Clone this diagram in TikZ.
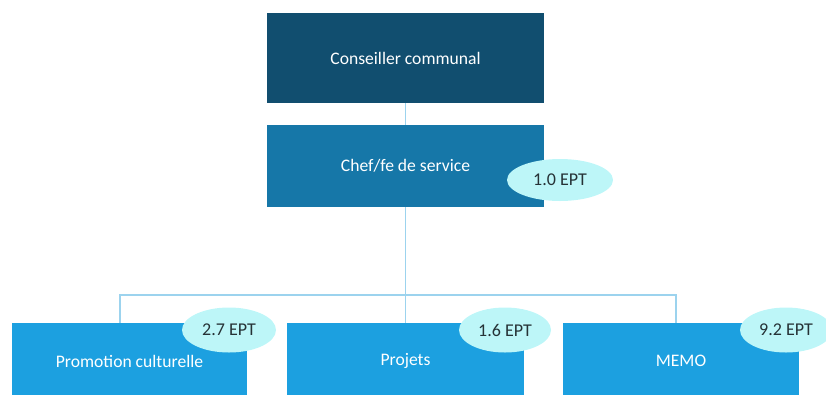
\documentclass[tikz,border=0pt]{standalone}
\usepackage{fontspec}
\setmainfont{Carlito}
\usetikzlibrary{shapes.geometric}
\definecolor{topc}{HTML}{114E6F}
\definecolor{midc}{HTML}{1677A8}
\definecolor{botc}{HTML}{1CA0E0}
\definecolor{ellc}{HTML}{BDF6F8}
\definecolor{linec}{HTML}{9CD3EE}
\definecolor{ellt}{HTML}{263236}
\tikzset{
  box/.style={rectangle, draw=none, text=white, font=\fontsize{17.6}{20}\selectfont, inner sep=0pt},
  ept/.style={ellipse, fill=ellc, draw=none, text=ellt, font=\fontsize{18}{20}\selectfont, inner sep=0pt},
  conn/.style={draw=linec, line width=1.4pt}
}
\begin{document}
\begin{tikzpicture}[x=1pt,y=-1pt]
\useasboundingbox (0,0) rectangle (826,394);
\clip (0,0) rectangle (826,394);
\node[box, fill=topc, minimum width=277pt, minimum height=90pt] (cons) at (405.5,58) {Conseiller communal};
\node[box, fill=midc, minimum width=277pt, minimum height=82pt] (chef) at (405.5,166) {Chef/fe de service};
\node[box, fill=botc, minimum width=235pt, minimum height=76pt] (promo) at (129.5,361) {Promotion culturelle};
\node[box, fill=botc, minimum width=237pt, minimum height=76pt] (proj) at (405.5,361) {Projets};
\node[box, fill=botc, minimum width=236pt, minimum height=76pt] (memo) at (681,361) {MEMO};
\coordinate (hub) at (405.5,295);
\draw[conn] (cons.south) -- (chef.north);
\draw[conn] (chef.south) -- (hub);
\draw[conn] (hub) -| (promo.north -| 120,0);
\draw[conn] (hub) -- (proj.north);
\draw[conn] (hub) -| (memo.north -| 676,0);
\node[ept, minimum width=106pt, minimum height=42pt] (e1) at (560,180) {1.0 EPT};
\node[ept, minimum width=94pt, minimum height=45pt] (e2) at (229,330) {2.7 EPT};
\node[ept, minimum width=92pt, minimum height=45pt] (e3) at (505,330) {1.6 EPT};
\node[ept, minimum width=92pt, minimum height=45pt] (e4) at (786,330) {9.2 EPT};
\end{tikzpicture}
\end{document}
